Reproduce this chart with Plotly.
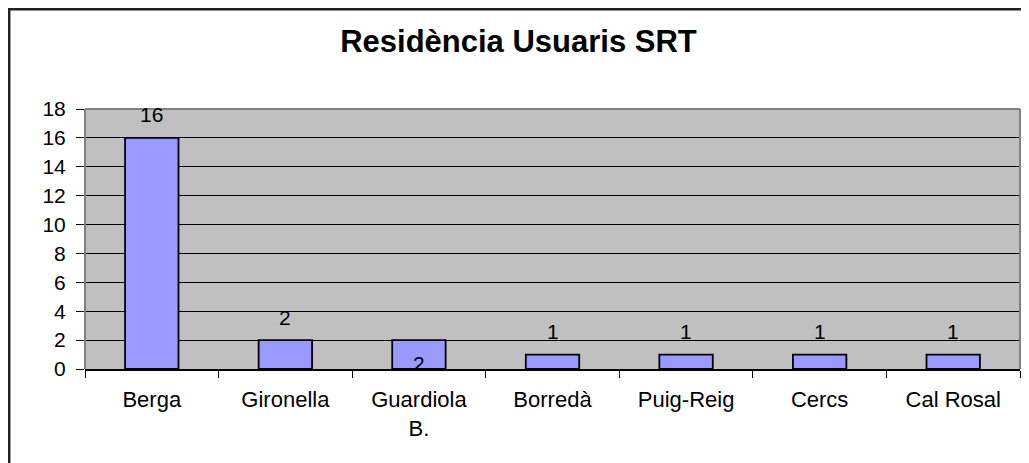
import plotly.graph_objects as go

categories = ["Berga", "Gironella", "Guardiola<br>B.", "Borredà", "Puig-Reig", "Cercs", "Cal Rosal"]
values = [16, 2, 2, 1, 1, 1, 1]
y_ticks = [0, 2, 4, 6, 8, 10, 12, 14, 16, 18]

# la pagina te 8px de marge al body
W, H = 1021, 455
L, R, T, B = 77, 9, 101, 94
pw, ph = W - L - R, H - T - B

font = "Liberation Sans, Arial, sans-serif"

fig = go.Figure()
fig.add_trace(go.Bar(
    x=categories, y=values,
    marker=dict(color="#9999FF", line=dict(color="black", width=1.8)),
    hoverinfo="x+y"))

# etiquetes de valor
for i, (c, v) in enumerate(zip(categories, values)):
    shift = -23 if i == 2 else 23
    fig.add_annotation(x=c, y=v, text=str(v), showarrow=False, yshift=shift,
                       yanchor="middle", font=dict(size=21, color="black", family=font))

# vores grises de l'area del grafic
for x0, y0, x1, y1 in [(0, 0, 0, 1), (0, 1, 1, 1), (1, 0, 1, 1)]:
    fig.add_shape(type="line", xref="paper", yref="paper", x0=x0, y0=y0, x1=x1, y1=y1,
                  line=dict(color="#808080", width=2), layer="above")

# marc exterior
fig.add_shape(type="rect", xref="paper", yref="paper",
              x0=(1.2 - L) / pw, x1=1.1, y0=-0.6, y1=(ph + T - 1.2) / ph,
              line=dict(color="#222222", width=2.5), layer="above")

fig.update_layout(
    width=W, height=H,
    margin=dict(l=L, r=R, t=T, b=B),
    paper_bgcolor="white", plot_bgcolor="#C0C0C0",
    bargap=0.6, showlegend=False,
    font=dict(family=font, color="black", size=21),
    title=dict(text="<b>Residència Usuaris SRT</b>", x=0.5, xanchor="center",
               y=1 - 33 / H, yanchor="middle", yref="container",
               font=dict(size=31, family=font, color="black")),
    xaxis=dict(showgrid=False, showline=True, linecolor="black", linewidth=2,
               ticks="outside", tickson="boundaries", ticklen=7, tickcolor="black",
               tickfont=dict(size=22), ticklabelstandoff=10, fixedrange=True),
    yaxis=dict(range=[0, 18], tickvals=y_ticks, showgrid=True, gridcolor="black", gridwidth=1,
               zeroline=False, showline=False, ticks="outside", ticklen=8, tickcolor="black",
               tickfont=dict(size=21), ticklabelstandoff=6, fixedrange=True),
)

fig.write_html("out.html")
